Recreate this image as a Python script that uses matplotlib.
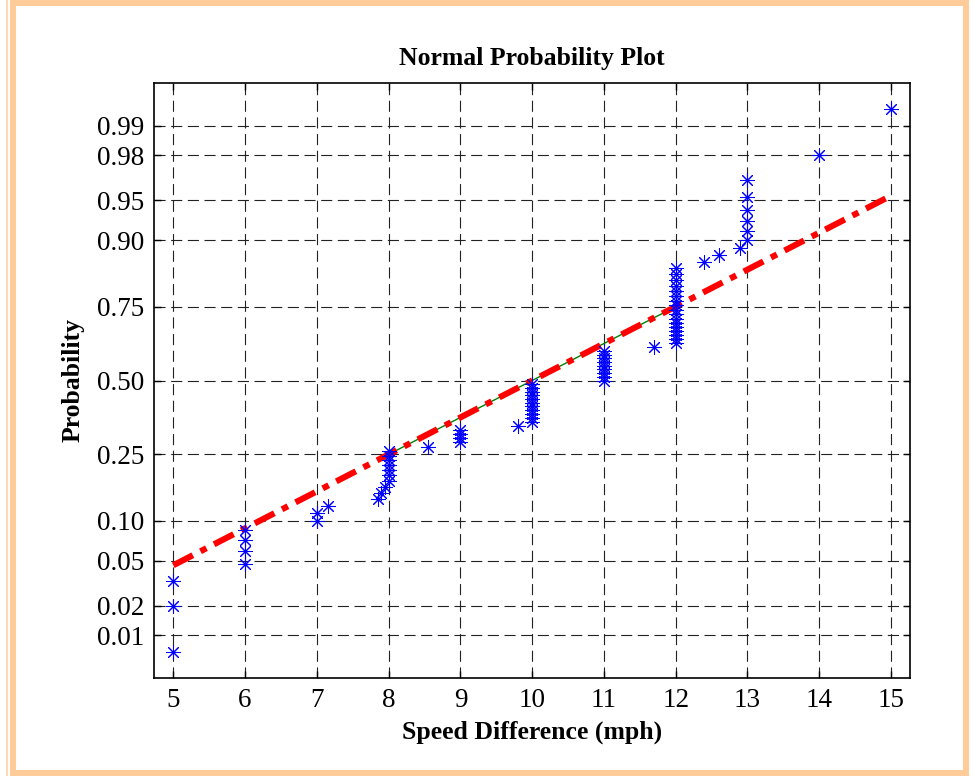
import numpy as np
import matplotlib
matplotlib.use("Agg")
import matplotlib.pyplot as plt
from matplotlib.patches import Rectangle
from matplotlib.lines import Line2D
from statistics import NormalDist

# ---- data ----
speed_values = [5, 6, 7, 7.15, 7.85, 7.9, 7.95, 8, 8.55, 9, 9.8, 10, 11, 11.7,
                12, 12.4, 12.6, 12.9, 13, 14, 15]
speed_counts = [3, 4, 2, 1, 1, 1, 1, 7, 1, 4, 1, 11, 9, 1,
                17, 1, 1, 1, 6, 1, 1]
prob_ticks = [0.01, 0.02, 0.05, 0.10, 0.25, 0.50, 0.75, 0.90, 0.95, 0.98, 0.99]
prob_labels = ["0.01", "0.02", "0.05", "0.10", "0.25", "0.50", "0.75",
               "0.90", "0.95", "0.98", "0.99"]
x_ticks = [5, 6, 7, 8, 9, 10, 11, 12, 13, 14, 15]

plt.rcParams['font.family'] = ['Liberation Serif', 'DejaVu Serif']

nd = NormalDist()
data = np.sort(np.repeat(speed_values, speed_counts))
n = len(data)
probs = (np.arange(1, n + 1) - 0.5) / n
zq = np.array([nd.inv_cdf(p) for p in probs])

# quartile reference line (as in normplot)
q1, q3 = np.percentile(data, [25, 75], method='hazen')
z1, z3 = nd.inv_cdf(0.25), nd.inv_cdf(0.75)
slope = (z3 - z1) / (q3 - q1)
xe = np.array([data.min(), data.max()])
ye = z1 + slope * (xe - q1)

fig = plt.figure(figsize=(9.72, 7.76), dpi=100)
W, H = 972, 776
ax = fig.add_axes([154 / W, 1 - 678 / H, 756 / W, 595 / H])

ax.plot([q1, q3], [z1, z3], color=(0, 0.5, 0), lw=1.0, zorder=3)
ax.plot(xe, ye, color='red', lw=4.4, linestyle=(0, (3.6, 1.4, 1.1, 1.4)),
        dash_capstyle='butt', zorder=4)
ax.plot(data, zq, linestyle='none', marker=(8, 2, 0), markersize=10.5,
        markeredgewidth=0.75, color='blue', zorder=5)

ax.set_xlim(4.731, 15.265)
ax.set_ylim(-2.715, 2.715)
ax.set_xticks(x_ticks)
ax.set_xticklabels([str(t) for t in x_ticks])
ax.set_yticks([nd.inv_cdf(p) for p in prob_ticks])
ax.set_yticklabels(prob_labels)

ax.set_axisbelow(True)
ax.grid(True, color='#222222', lw=0.8, linestyle=(0, (10, 5)))
ax.tick_params(direction='in', length=5, width=1, top=True, right=True,
               labelsize=19.5, pad=7)
for s in ax.spines.values():
    s.set_linewidth(1.2)

ax.set_title("Normal Probability Plot", fontsize=18.5, fontweight='bold', pad=13)
ax.set_xlabel("Speed Difference (mph)", fontsize=18.5, fontweight='bold', labelpad=6)
ax.set_ylabel("Probability", fontsize=18.5, fontweight='bold', labelpad=9)

# peach frame around the figure
peach = '#FFCC99'
fig.patches.append(Rectangle((13 / W, 3 / H), (966 - 13) / W, (773 - 3) / H,
                             transform=fig.transFigure, fill=False,
                             edgecolor=peach, lw=6 * 0.72, zorder=0))
fig.lines.append(Line2D([6.5 / W, 6.5 / W], [0, 1], transform=fig.transFigure,
                        color=peach, lw=1.5 * 0.72))

fig.savefig("out.png", dpi=100)
